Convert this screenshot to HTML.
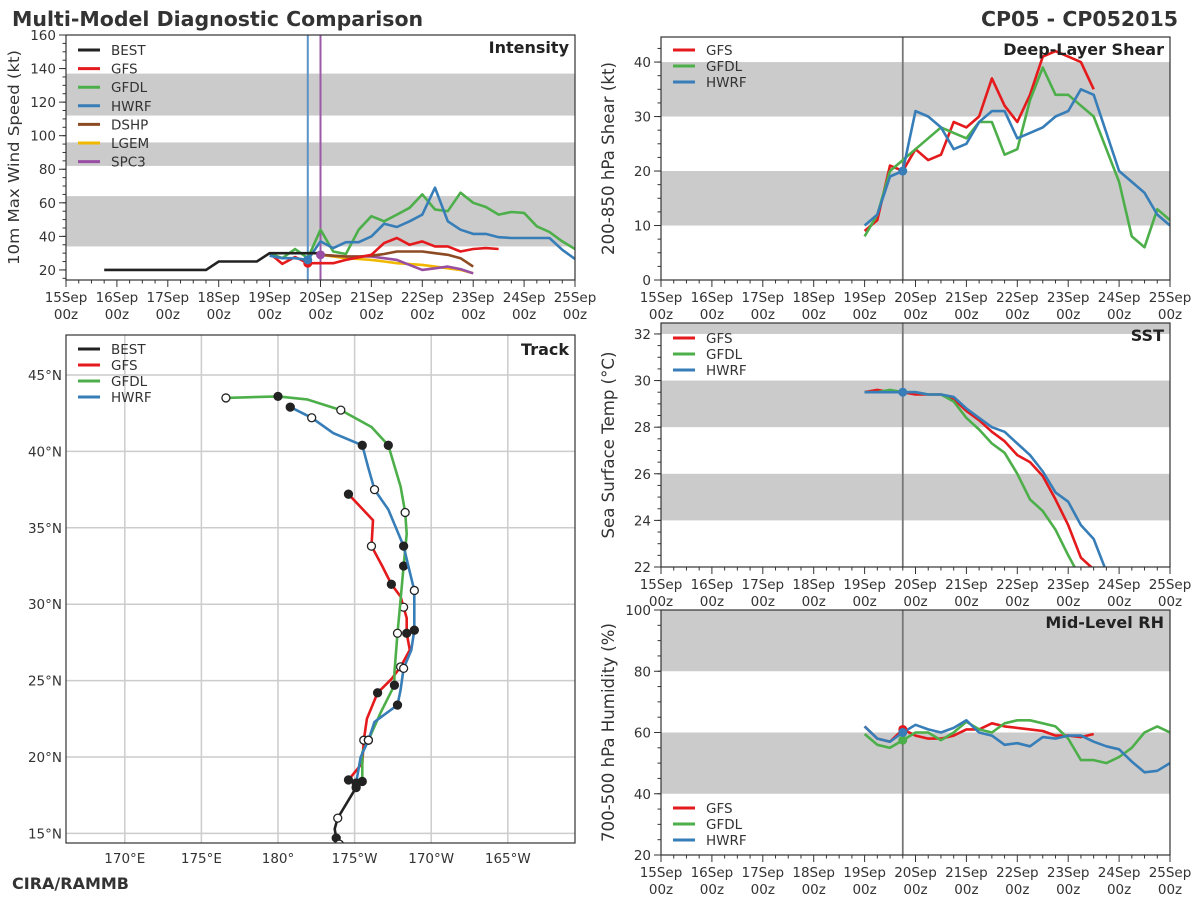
<!DOCTYPE html>
<html><head><meta charset="utf-8">
<style>
html,body{margin:0;padding:0;background:#fff;overflow:hidden;width:1200px;height:900px;}
svg{display:block;font-family:"DejaVu Sans","Liberation Sans",sans-serif;}
</style></head>
<body>
<svg id="c" width="1200" height="900" viewBox="0 0 1200 900" xmlns="http://www.w3.org/2000/svg">
<text x="12" y="26" font-size="20.5" font-weight="bold" fill="#333">Multi-Model Diagnostic Comparison</text>
<text x="1178" y="26" font-size="20.5" font-weight="bold" fill="#333" text-anchor="end">CP05 - CP052015</text>
<text x="12" y="889" font-size="16" font-weight="bold" fill="#333">CIRA/RAMMB</text>
</svg>
<script>
// ---------- data ----------
const dayLabels = ["15Sep","16Sep","17Sep","18Sep","19Sep","20Sep","21Sep","22Sep","23Sep","24Sep","25Sep"];
const bestIntT = [0.75,1,1.25,1.5,1.75,2,2.25,2.5,2.75,3,3.25,3.5,3.75,4,4.25,4.5,4.75,5];
const bestIntV = [20,20,20,20,20,20,20,20,20,25,25,25,25,30,30,30,30,30];
const gfsIntStart = 4.0;
const gfsIntV = [30,23.6,27.7,24,24,24,26,27.5,29,36,39,35,37,34,34,31,32.5,33,32.5];
const gfdlIntStart = 4.0;
const gfdlIntV = [30,27,32.5,27,44,31,29.5,44,52,49,53,57,65,56,55,66,60,57.5,53,54.5,54,46,42.6,37,32.5];
const hwrfIntStart = 4.0;
const hwrfIntV = [28.5,27,27,26,37,33,36.5,36.5,40,47.5,45.6,49,53,69,49,44,41.5,41.5,39.5,39,39,39,39,32,26.5];
const dshpIntStart = 5.0;
const dshpIntV = [29,28.5,28,28,28.5,29.5,31,31,31,30,29,27,22];
const lgemIntStart = 5.0;
const lgemIntV = [29,28,27,26.5,26,25,24,23.5,23,22,21,20,18];
const spc3IntStart = 5.0;
const spc3IntV = [29,28.5,28,28,28,27,26,23,20,21,22,20.5,18];

const gfsShrStart = 4.0;
const gfsShrV = [9,11,21,20,24,22,23,29,28,30,37,32,29,34,41,42,41,40,35];
const gfdlShrStart = 4.0;
const gfdlShrV = [8,12,20,22,24,26,28,27,26,29,29,23,24,33,39,34,34,32,30,24,18,8,6,13,11];
const hwrfShrStart = 4.0;
const hwrfShrV = [10,12,19,20,31,30,28,24,25,29,31,31,26,27,28,30,31,35,34,27,20,18,16,12,10];

const gfsSstStart = 4.0;
const gfsSstV = [29.5,29.6,29.5,29.5,29.4,29.4,29.4,29.2,28.7,28.3,27.8,27.4,26.8,26.5,25.9,24.9,23.8,22.4,21.9];
const gfdlSstStart = 4.0;
const gfdlSstV = [29.5,29.5,29.6,29.5,29.5,29.4,29.4,29.1,28.4,27.9,27.3,26.9,26.0,24.9,24.4,23.6,22.5,21.5];
const hwrfSstStart = 4.0;
const hwrfSstV = [29.5,29.5,29.5,29.5,29.5,29.4,29.4,29.3,28.8,28.4,28.0,27.8,27.3,26.8,26.1,25.2,24.8,23.8,23.2,21.8];

const gfsRhStart = 4.0;
const gfsRhV = [62,58,57,61,59,58,58,59,61,61,63,62,61.5,61,60.5,59,59,58.5,59.5];
const gfdlRhStart = 4.0;
const gfdlRhV = [59.5,56,55,57.5,60,60,57.5,60,63.5,61,60,63,64,64,63,62,58,51,51,50,52,55,60,62,60];
const hwrfRhStart = 4.0;
const hwrfRhV = [62,58,57,60,62.5,61,60,61.5,64,60,59,56,56.5,55.5,58.5,58,59,59,57,55.5,54.5,50.5,47,47.5,50];

const bestLon = [185.1,184.5,183.9,183.7,183.8,184.0];
const bestLat = [18.0,17.0,16.0,15.3,14.7,14.3];
const gfsLon = [184.6,185.5,185.6,185.8,186.5,187.4,188.0,188.6,188.4,188.4,188.2,188.0,187.4,186.8,186.1,186.2,184.6];
const gfsLat = [18.5,19.6,21.1,22.5,24.2,25.1,25.9,27.0,28.1,29.1,29.8,30.5,31.3,32.5,33.8,35.5,37.2];
const gfdlLon = [185.5,185.5,185.9,186.7,187.6,187.6,187.8,188.0,188.2,188.4,188.3,188.0,187.2,186.1,184.1,181.9,180,176.6];
const gfdlLat = [18.4,20.3,21.1,22.9,24.7,25.5,28.1,30.3,32.5,34.6,36.0,37.7,40.4,41.6,42.7,43.4,43.6,43.5];
const hwrfLon = [185.1,185.4,185.9,186.3,187.8,188.0,188.2,188.7,188.9,188.9,188.9,188.6,188.2,187.2,186.3,185.9,185.5,183.6,182.2,180.8];
const hwrfLat = [18.3,20.0,21.1,22.3,23.4,24.4,25.8,27.0,28.3,29.8,30.9,32.1,33.8,36.2,37.5,38.9,40.4,41.2,42.2,42.9];
const lonTicks = [170,175,180,185,190,195];
const lonLabels = ["170°E","175°E","180°","175°W","170°W","165°W"];
const latTicks = [15,20,25,30,35,40,45];

// ---------- helpers ----------
const NS="http://www.w3.org/2000/svg";
const svg=document.getElementById('c');
function mk(tag,attrs,parent){const e=document.createElementNS(NS,tag);for(const k in attrs)e.setAttribute(k,attrs[k]);(parent||svg).appendChild(e);return e;}
const C={best:"#222222",gfs:"#e41a1c",gfdl:"#4daf4a",hwrf:"#377eb8",dshp:"#8c4b23",lgem:"#f0b800",spc3:"#984ea3"};

function panel(name,x0,x1,y0,y1,vmin,vmax,ticks,bands,ylabel,title,labLen,labFs){
  const g=mk('g',{});
  
  
  const xs=d=>x0+(x1-x0)*d/10;
  const ys=v=>y1-(y1-y0)*(v-vmin)/(vmax-vmin);
  const cid=name+'-clip';
  const cp=mk('clipPath',{id:cid},g);mk('rect',{x:x0,y:y0,width:x1-x0,height:y1-y0},cp);
  const bg=mk('g',{'clip-path':`url(#${cid})`},g);
  bands.forEach(b=>{
    const r=mk('rect',{x:x0,y:ys(b[1]),width:x1-x0,height:ys(b[0])-ys(b[1]),fill:"#cbcbcb"},bg);
    
    
  });
  const plot=mk('g',{'clip-path':`url(#${cid})`},g);
  for(let i=0;i<=40;i++){const d=i/4;const x=xs(d);const major=i%4===0;
    mk('line',{x1:x,x2:x,y1:y1,y2:y1+(major?7:3.5),stroke:"#333","stroke-width":1},g);}
  dayLabels.forEach((l,i)=>{
    const t=mk('text',{x:xs(i),y:y1+22,'font-size':13.5,fill:"#333",'text-anchor':'middle'},g);t.textContent=l;
    
    
    const t2=mk('text',{x:xs(i),y:y1+39,'font-size':13.5,fill:"#333",'text-anchor':'middle'},g);t2.textContent="00z";
    
    
  });
  const step=ticks[1]-ticks[0];
  for(let v=ticks[0]-step/2;v<=vmax;v+=step/4){if(v<vmin)continue;
    mk('line',{x1:x0-3.5,x2:x0,y1:ys(v),y2:ys(v),stroke:"#333","stroke-width":1},g);}
  ticks.forEach(v=>{
    mk('line',{x1:x0-7,x2:x0,y1:ys(v),y2:ys(v),stroke:"#333","stroke-width":1},g);
    const t=mk('text',{x:x0-10,y:ys(v)+5,'font-size':13.5,fill:"#333",'text-anchor':'end'},g);t.textContent=v;
    
    
  });
  mk('rect',{x:x0,y:y0,width:x1-x0,height:y1-y0,fill:"none",stroke:"#333","stroke-width":1.2},g);
  const cy=(y0+y1)/2;
  const yl=mk('text',{x:-cy,y:x0-47,'font-size':labFs,fill:"#333",'text-anchor':'middle',textLength:labLen,lengthAdjust:'spacingAndGlyphs',transform:'rotate(-90)'},g);yl.textContent=ylabel;
  
  
  const tt=mk('text',{x:x1-6,y:y0+18,'font-size':16,'font-weight':'bold',fill:"#222",'text-anchor':'end'},g);tt.textContent=title;
  
  
  return {g,plot,xs,ys};
}
function series(p,start,vals,color,nm){
  const pts=vals.map((v,i)=>p.xs(start+i*0.25).toFixed(1)+','+p.ys(v).toFixed(1)).join(' ');
  const l=mk('polyline',{points:pts,fill:"none",stroke:color,'stroke-width':2.6,'stroke-linejoin':'round'},p.plot);
  
  
}
function seriesT(p,ts,vals,color,nm){
  const pts=vals.map((v,i)=>p.xs(ts[i]).toFixed(1)+','+p.ys(v).toFixed(1)).join(' ');
  const l=mk('polyline',{points:pts,fill:"none",stroke:color,'stroke-width':2.6},p.plot);
  
  
}
function legend(x,y,items,dy){
  items.forEach((it,i)=>{
    const gg=mk('g',{});
    
    
    mk('line',{x1:x,x2:x+22,y1:y+i*dy,y2:y+i*dy,stroke:it[1],'stroke-width':3},gg);
    const t=mk('text',{x:x+33,y:y+i*dy+5,'font-size':13.5,fill:"#333"},gg);t.textContent=it[0];
  });
}
function vline(p,d,color,w){mk('line',{x1:p.xs(d),x2:p.xs(d),y1:0,y2:2000,stroke:color,'stroke-width':w||2},p.plot);}
function dot(p,d,v,color){mk('circle',{cx:p.xs(d),cy:p.ys(v),r:4.5,fill:color},p.plot);}

// ---------- intensity ----------
const pI=panel('intensity',66,575,35,280,14,160,[20,40,60,80,100,120,140,160],[[34,64],[82,96],[112,137]],"10m Max Wind Speed (kt)","Intensity",215,15.5);
vline(pI,4.75,"#5b93c7",2);vline(pI,5.0,"#9b59a8",2);
series(pI,lgemIntStart,lgemIntV,C.lgem,'lgem-intensity-line');
series(pI,spc3IntStart,spc3IntV,C.spc3,'spc3-intensity-line');
series(pI,dshpIntStart,dshpIntV,C.dshp,'dshp-intensity-line');
series(pI,gfsIntStart,gfsIntV,C.gfs,'gfs-intensity-line');
series(pI,gfdlIntStart,gfdlIntV,C.gfdl,'gfdl-intensity-line');
series(pI,hwrfIntStart,hwrfIntV,C.hwrf,'hwrf-intensity-line');
seriesT(pI,bestIntT,bestIntV,C.best,'best-intensity-line');
dot(pI,4.75,gfsIntV[3],C.gfs);dot(pI,4.75,hwrfIntV[3],C.hwrf);dot(pI,5.0,spc3IntV[0],C.spc3);
legend(78,50,[["BEST",C.best],["GFS",C.gfs],["GFDL",C.gfdl],["HWRF",C.hwrf],["DSHP",C.dshp],["LGEM",C.lgem],["SPC3",C.spc3]],18.6);

// ---------- shear ----------
const pS=panel('shear',661,1170,37,280,0,44.6,[0,10,20,30,40],[[10,20],[30,40]],"200-850 hPa Shear (kt)","Deep-Layer Shear",193,16.5);
vline(pS,4.75,"#777",1.8);
series(pS,gfsShrStart,gfsShrV,C.gfs,'gfs-shear-line');
series(pS,gfdlShrStart,gfdlShrV,C.gfdl,'gfdl-shear-line');
series(pS,hwrfShrStart,hwrfShrV,C.hwrf,'hwrf-shear-line');
dot(pS,4.75,hwrfShrV[3],C.hwrf);
legend(673,50,[["GFS",C.gfs],["GFDL",C.gfdl],["HWRF",C.hwrf]],16);

// ---------- SST ----------
const pT=panel('sst',661,1170,323,567,22,32.47,[22,24,26,28,30,32],[[24,26],[28,30],[32,33]],"Sea Surface Temp (°C)","SST",187,16.5);
vline(pT,4.75,"#777",1.8);
series(pT,gfsSstStart,gfsSstV,C.gfs,'gfs-sst-line');
series(pT,gfdlSstStart,gfdlSstV,C.gfdl,'gfdl-sst-line');
series(pT,hwrfSstStart,hwrfSstV,C.hwrf,'hwrf-sst-line');
dot(pT,4.75,hwrfSstV[3],C.hwrf);
legend(673,338,[["GFS",C.gfs],["GFDL",C.gfdl],["HWRF",C.hwrf]],16);

// ---------- RH ----------
const pR=panel('rh',661,1170,610,855,20,100,[20,40,60,80,100],[[40,60],[80,100]],"700-500 hPa Humidity (%)","Mid-Level RH",219,16.5);
vline(pR,4.75,"#777",1.8);
series(pR,gfsRhStart,gfsRhV,C.gfs,'gfs-rh-line');
series(pR,gfdlRhStart,gfdlRhV,C.gfdl,'gfdl-rh-line');
series(pR,hwrfRhStart,hwrfRhV,C.hwrf,'hwrf-rh-line');
dot(pR,4.75,gfsRhV[3],C.gfs);dot(pR,4.75,gfdlRhV[3],C.gfdl);dot(pR,4.75,hwrfRhV[3],C.hwrf);
legend(673,808,[["GFS",C.gfs],["GFDL",C.gfdl],["HWRF",C.hwrf]],16);

// ---------- track ----------
(function(){
  const x0=66,x1=575,y0=335,y1=843;
  const lx=lon=>278+(lon-180)*15.32;
  const ly=lat=>375-(lat-45)*15.28;
  const g=mk('g',{});
  
  
  const cp=mk('clipPath',{id:'trk'},g);mk('rect',{x:x0,y:y0,width:x1-x0,height:y1-y0},cp);
  const plot=mk('g',{'clip-path':'url(#trk)'},g);
  lonTicks.forEach((lo,i)=>{
    mk('line',{x1:lx(lo),x2:lx(lo),y1:y0,y2:y1,stroke:"#cccccc",'stroke-width':1.5},plot);
    const t=mk('text',{x:lx(lo),y:y1+20,'font-size':13.5,fill:"#333",'text-anchor':'middle'},g);t.textContent=lonLabels[i];
    
    
  });
  latTicks.forEach(la=>{
    mk('line',{x1:x0,x2:x1,y1:ly(la),y2:ly(la),stroke:"#cccccc",'stroke-width':1.5},plot);
    const t=mk('text',{x:x0-4,y:ly(la)+5,'font-size':13.5,fill:"#333",'text-anchor':'end'},g);t.textContent=la+"°N";
    
    
  });
  function trk(lons,lats,color,nm,markEvery){
    const pts=lons.map((lo,i)=>lx(lo).toFixed(1)+','+ly(lats[i]).toFixed(1)).join(' ');
    const l=mk('polyline',{points:pts,fill:"none",stroke:color,'stroke-width':2.6},plot);
    
    
    let k=0;
    lons.forEach((lo,i)=>{if(i%markEvery!==0&&i!==lons.length-1)return;
      const filled=(k++)%2===0;
      mk('circle',{cx:lx(lo),cy:ly(lats[i]),r:4,fill:filled?"#222":"#fff",stroke:"#222",'stroke-width':1.3},plot);});
  }
  trk(gfsLon,gfsLat,C.gfs,'gfs-track',2);
  trk(gfdlLon,gfdlLat,C.gfdl,'gfdl-track',2);
  trk(hwrfLon,hwrfLat,C.hwrf,'hwrf-track',2);
  trk(bestLon,bestLat,C.best,'best-track',2);
  mk('rect',{x:x0,y:y0,width:x1-x0,height:y1-y0,fill:"none",stroke:"#333","stroke-width":1.2},g);
  const tt=mk('text',{x:x1-6,y:y0+20,'font-size':16,'font-weight':'bold',fill:"#222",'text-anchor':'end'},g);tt.textContent="Track";
  
  
  legend(78,349,[["BEST",C.best],["GFS",C.gfs],["GFDL",C.gfdl],["HWRF",C.hwrf]],16);
})();
</script>
</body></html>
